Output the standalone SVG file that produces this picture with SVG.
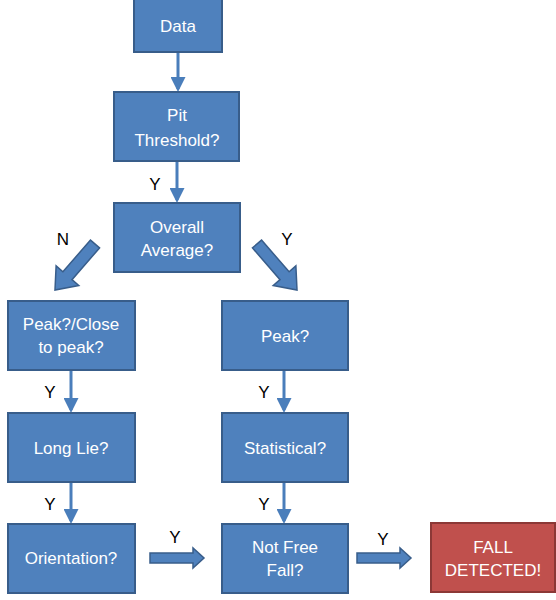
<svg xmlns="http://www.w3.org/2000/svg" width="556" height="600" viewBox="0 0 556 600">
<defs>
<style>
.box{fill:#4F81BD;stroke:#385D8A;stroke-width:2}
.red{fill:#C0504D;stroke:#8C3836;stroke-width:2}
.t{font-family:"Liberation Sans",Arial,sans-serif;font-size:17px;fill:#fff;text-anchor:middle}
.l{font-family:"Liberation Sans",Arial,sans-serif;font-size:17px;fill:#000;text-anchor:middle}
.ln{stroke:#4A7EBB;stroke-width:3;fill:none;marker-end:url(#ah)}
.fat{fill:#4F81BD;stroke:#385D8A;stroke-width:1.5}
</style>
<marker id="ah" markerWidth="5" markerHeight="5" refX="4" refY="2.5" orient="auto" markerUnits="strokeWidth">
<path d="M0,0 L5,2.5 L0,5 Z" fill="#4A7EBB"/>
</marker>
</defs>
<rect width="556" height="600" fill="#fff"/>
<g id="connectors">
<line class="ln" x1="178" y1="52" x2="178" y2="89"/>
<line class="ln" x1="177" y1="161" x2="177" y2="200"/>
<line class="ln" x1="71" y1="370" x2="71" y2="410"/>
<line class="ln" x1="71" y1="482" x2="71" y2="521"/>
<line class="ln" x1="284" y1="370" x2="284" y2="410"/>
<line class="ln" x1="284" y1="482" x2="284" y2="521"/>
<polygon class="fat" transform="translate(95,244) rotate(131)" points="0,-6 42,-6 42,-15 61,0 42,15 42,6 0,6"/>
<polygon class="fat" transform="translate(257,244) rotate(49)" points="0,-6 42,-6 42,-15 61,0 42,15 42,6 0,6"/>
<polygon class="fat" points="150,553 193,553 193,548 204,558 193,568 193,563 150,563"/>
<polygon class="fat" points="357,553 400,553 400,548 411,558 400,568 400,563 357,563"/>
<text class="l" x="155" y="190">Y</text>
<text class="l" x="63" y="245">N</text>
<text class="l" x="287" y="245">Y</text>
<text class="l" x="50" y="398">Y</text>
<text class="l" x="50" y="510">Y</text>
<text class="l" x="264" y="398">Y</text>
<text class="l" x="264" y="510">Y</text>
<text class="l" x="175" y="543">Y</text>
<text class="l" x="383" y="545">Y</text>
</g>
<g id="data"><rect class="box" x="134" y="-2" width="88" height="54"/><text class="t" x="178" y="32">Data</text></g>
<g id="pit"><rect class="box" x="114" y="92" width="125" height="69"/><text class="t" x="177" y="121">Pit</text><text class="t" x="177" y="146">Threshold?</text></g>
<g id="overall"><rect class="box" x="114" y="203" width="126" height="69"/><text class="t" x="177" y="233">Overall</text><text class="t" x="177" y="256">Average?</text></g>
<g id="peakclose"><rect class="box" x="8" y="301" width="127" height="69"/><text class="t" x="71" y="330">Peak?/Close</text><text class="t" x="71" y="353">to peak?</text></g>
<g id="peak"><rect class="box" x="222" y="301" width="126" height="69"/><text class="t" x="285" y="342">Peak?</text></g>
<g id="longlie"><rect class="box" x="8" y="413" width="127" height="69"/><text class="t" x="71" y="454">Long Lie?</text></g>
<g id="statistical"><rect class="box" x="222" y="413" width="126" height="69"/><text class="t" x="285" y="454">Statistical?</text></g>
<g id="orientation"><rect class="box" x="8" y="524" width="127" height="69"/><text class="t" x="71" y="564">Orientation?</text></g>
<g id="notfree"><rect class="box" x="222" y="524" width="126" height="69"/><text class="t" x="285" y="553">Not Free</text><text class="t" x="285" y="576">Fall?</text></g>
<g id="fall"><rect class="red" x="431" y="523" width="124" height="69"/><text class="t" x="493" y="553">FALL</text><text class="t" x="493" y="576">DETECTED!</text></g>
</svg>
